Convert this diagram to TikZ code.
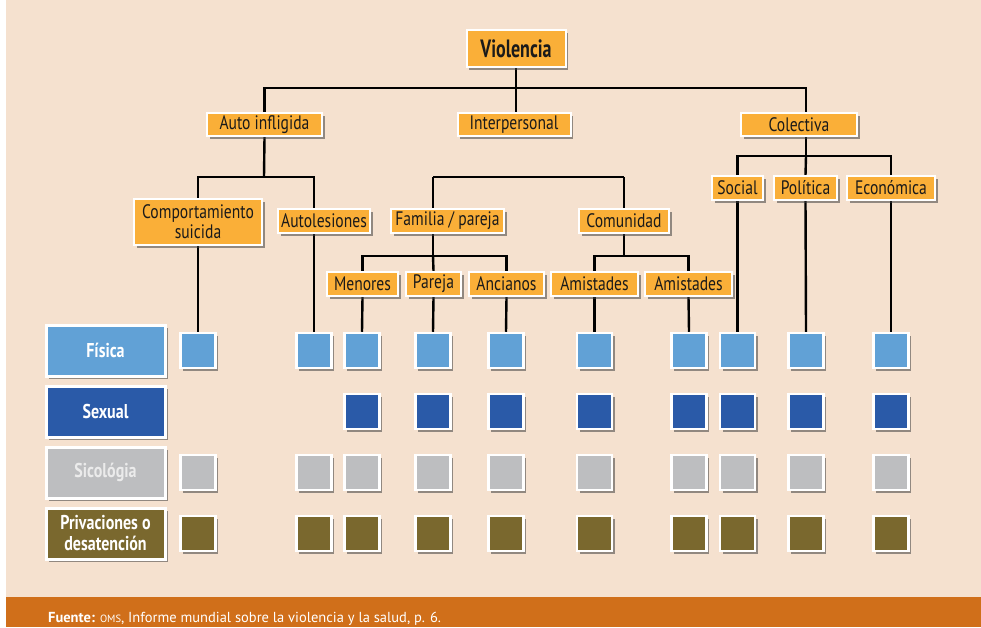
\documentclass[tikz,border=0pt]{standalone}
\usepackage{fontspec}
\setmainfont[FakeStretch=0.8]{PT Sans}
\newfontfamily\vfont[FakeStretch=0.72]{PT Sans}
\newfontfamily\footfont{PT Sans}
\usetikzlibrary{shadows,backgrounds,calc}
\definecolor{bgc}{HTML}{F5E1CF}
\definecolor{footc}{HTML}{D06F1A}
\definecolor{orangebox}{HTML}{FAAF38}
\definecolor{fisc}{HTML}{61A1D6}
\definecolor{sexc}{HTML}{2A5AA8}
\definecolor{sicc}{HTML}{BDBEC0}
\definecolor{privc}{HTML}{7A682E}
\definecolor{ink}{HTML}{1A1A1A}
\tikzset{
  shad/.style={drop shadow={shadow xshift=2.5pt,shadow yshift=-2.5pt,opacity=0.55,fill=black!75}},
  obox/.style={shad,fill=orangebox,draw=white,line width=2pt,inner sep=0pt,text=ink,
     font=\fontsize{19.5}{20}\selectfont,align=center},
  vbox/.style={obox,font=\vfont\fontsize{25}{25}\bfseries\selectfont},
  lbox/.style={shad,draw=white,line width=3pt,inner sep=0pt,minimum width=119pt,minimum height=51pt,
     text=white,font=\fontsize{20}{21}\bfseries\selectfont,align=center},
  sq/.style={shad,draw=white,line width=2.5pt,inner sep=0pt,minimum size=35pt},
  conn/.style={black,line width=2.4pt},
}
\begin{document}
\begin{tikzpicture}[x=1pt,y=-1pt]
\useasboundingbox (0,0) rectangle (981,627);
% top boxes
\node[vbox,minimum width=99pt,minimum height=37pt] (viol) at (516,48.5) {Violencia};
\node[obox,minimum width=115pt,minimum height=23pt] (auto) at (264.5,124.5) {Auto infligida};
\node[obox,minimum width=113pt,minimum height=23pt] (inter) at (514,124.5) {Interpersonal};
\node[obox,minimum width=116pt,minimum height=23pt] (colec) at (799,124.5) {Colectiva};
\node[obox,minimum width=128pt,minimum height=46pt] (comp) at (198,222) {Comportamiento\\suicida};
\node[obox,minimum width=92pt,minimum height=24pt] (autol) at (324,221) {Autolesiones};
\node[obox,minimum width=113pt,minimum height=24pt] (fam) at (447.5,221) {Familia / pareja};
\node[obox,minimum width=90pt,minimum height=24pt] (comu) at (624,221) {Comunidad};
\node[obox,minimum width=71pt,minimum height=24pt] (menores) at (362.5,284) {Menores};
\node[obox,minimum width=55pt,minimum height=24pt] (pareja) at (433.5,284) {Pareja};
\node[obox,minimum width=75pt,minimum height=24pt] (ancianos) at (506.5,284) {Ancianos};
\node[obox,minimum width=87pt,minimum height=24pt] (amis1) at (594.5,284) {Amistades};
\node[obox,minimum width=87pt,minimum height=24pt] (amis2) at (688.5,284) {Amistades};
\node[obox,minimum width=51pt,minimum height=24pt] (social) at (737.5,188) {Social};
\node[obox,minimum width=63pt,minimum height=24pt] (politica) at (805.5,188) {Política};
\node[obox,minimum width=88pt,minimum height=24pt] (economica) at (891,188) {Económica};
% left labels
\node[lbox,fill=fisc] (lfis) at (105.5,350.5) {Física};
\node[lbox,fill=sexc] (lsex) at (105.5,411.5) {Sexual};
\node[lbox,fill=sicc,text=white!92!black] (lsic) at (105.5,472.5) {Sicológia};
\node[lbox,fill=privc] (lpriv) at (105.5,533.5) {Privaciones o\\desatención};
% squares
\foreach \c/\x in {1/198,2/314,3/362,4/433,5/506,6/594.5,7/689,8/737.5,9/806,10/891}{
  \node[sq,fill=fisc] (s1-\c) at (\x,350.5) {};
  \node[sq,fill=sicc] (s3-\c) at (\x,472.5) {};
  \node[sq,fill=privc] (s4-\c) at (\x,533.5) {};
}
\foreach \c/\x in {3/362,4/433,5/506,6/594.5,7/689,8/737.5,9/806,10/891}{
  \node[sq,fill=sexc] (s2-\c) at (\x,411.5) {};
}
% footer text
\node[anchor=base west,inner sep=0pt,text=white,font=\footfont\fontsize{14.5}{14.5}\selectfont] (foot) at (48,622)
  {\textbf{Fuente:} {\fontsize{10.5}{10.5}\selectfont OMS}, Informe mundial sobre la violencia y la salud, p. 6.};
\begin{scope}[on background layer]
  \fill[bgc] (6,0) rectangle (981,597);
  \fill[footc] (6,597) rectangle (981,627);
  \coordinate (m) at (516,88);
  \coordinate (j2) at (264,177);
  \coordinate (a1) at (314,177);
  \coordinate (f1) at (433,177);
  \coordinate (f2) at (624,177);
  \coordinate (g1) at (433,256);
  \coordinate (g2) at (624,256);
  \coordinate (c1) at (806,156);
  \draw[conn] (viol.south) -- (m);
  \draw[conn] (auto.north) |- (m) -| (c1 |- colec.north);
  \draw[conn] (m) -- (m |- inter.north);
  \draw[conn] (auto.south) -- (j2);
  \draw[conn] (comp.north) |- (a1) -- (a1 |- autol.north);
  \draw[conn] (f1) -- (f2);
  \draw[conn] (f1) -- (f1 |- fam.north);
  \draw[conn] (f2) -- (comu.north);
  \draw[conn] (f1 |- fam.south) -- (g1);
  \draw[conn] (menores.north) |- (g1) -| (ancianos.north);
  \draw[conn] (g1) -- (pareja.north);
  \draw[conn] (comu.south) -- (g2);
  \draw[conn] (amis1.north) |- (g2) -| (amis2.north);
  \draw[conn] (c1 |- colec.south) -- (c1);
  \draw[conn] (social.north) |- (c1) -| (economica.north);
  \draw[conn] (c1) -- (politica.north);
  \draw[conn] (comp.south) -- (s1-1.north);
  \draw[conn] (a1 |- autol.south) -- (s1-2.north);
  \draw[conn] (menores.south) -- (s1-3.north);
  \draw[conn] (pareja.south) -- (s1-4.north);
  \draw[conn] (ancianos.south) -- (s1-5.north);
  \draw[conn] (amis1.south) -- (s1-6.north);
  \draw[conn] (amis2.south) -- (s1-7.north);
  \draw[conn] (social.south) -- (s1-8.north);
  \draw[conn] (politica.south) -- (s1-9.north);
  \draw[conn] (economica.south) -- (s1-10.north);
\end{scope}
\end{tikzpicture}
\end{document}
